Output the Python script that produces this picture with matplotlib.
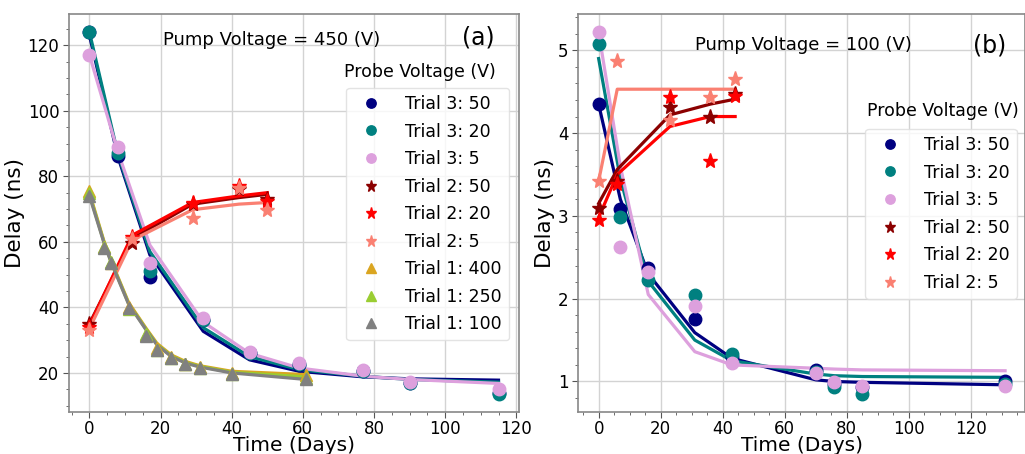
import matplotlib
matplotlib.use("Agg")
import matplotlib.pyplot as plt
from matplotlib.ticker import AutoMinorLocator

# ---------------- Panel (a): Pump Voltage = 450 V ----------------
a_t3_time = [0, 8, 17, 32, 45, 59, 77, 90, 115]
a_t3_50 = [124, 86.2, 49.3, 36.0, 26.0, 22.5, 20.5, 16.8, 14.0]
a_t3_20 = [124, 87.2, 51.0, 36.3, 26.2, 22.8, 20.5, 17.0, 13.6]
a_t3_5 = [117, 89.0, 53.6, 36.8, 26.4, 23.1, 20.8, 17.2, 15.1]
a_t3_50_fit = [123, 86.0, 56.0, 32.7, 24.0, 20.5, 18.8, 18.2, 17.8]
a_t3_20_fit = [124, 86.8, 57.0, 33.8, 25.0, 21.0, 19.0, 18.0, 17.2]
a_t3_5_fit = [117, 87.5, 59.0, 35.5, 26.0, 21.5, 19.0, 18.0, 16.8]

a_t2_time = [0, 12, 29, 42, 50]
a_t2_50 = [34.8, 59.7, 71.5, 76.0, 73.0]
a_t2_20 = [34.0, 61.5, 72.0, 77.0, 72.5]
a_t2_5 = [33.2, 61.0, 67.4, 76.5, 69.8]
a_t2_50_fit = [35.0, 61.0, 71.5, 73.5, 74.5]
a_t2_20_fit = [34.5, 62.0, 72.0, 74.0, 75.0]
a_t2_5_fit = [33.5, 60.5, 69.8, 71.5, 72.0]

a_t1_time = [0, 4, 6, 11, 16, 19, 23, 27, 31, 40, 61]
a_t1_400 = [75.5, 58.5, 53.5, 40.0, 31.5, 27.5, 24.8, 22.8, 21.7, 20.0, 19.3]
a_t1_250 = [75.0, 58.3, 53.8, 39.5, 32.0, 27.0, 24.6, 22.7, 21.4, 19.8, 18.5]
a_t1_100 = [74.0, 58.2, 53.6, 39.9, 31.4, 26.9, 24.6, 22.7, 21.5, 19.8, 18.0]
a_t1_400_fit = [75.0, 60.5, 54.5, 41.5, 33.5, 29.0, 25.5, 23.5, 22.2, 20.5, 19.5]
a_t1_250_fit = [74.5, 60.2, 54.2, 41.2, 33.2, 28.7, 25.2, 23.2, 22.0, 20.2, 18.8]
a_t1_100_fit = [74.0, 60.0, 54.0, 41.0, 33.0, 28.5, 25.0, 23.0, 21.8, 20.0, 18.0]

# ---------------- Panel (b): Pump Voltage = 100 V ----------------
b_t3_time = [0, 7, 16, 31, 43, 70, 76, 85, 131]
b_t3_50 = [4.35, 3.08, 2.37, 1.76, 1.30, 1.14, 0.97, 0.93, 1.00]
b_t3_20 = [5.07, 2.99, 2.22, 2.05, 1.33, 1.12, 0.93, 0.85, 0.97]
b_t3_5 = [5.22, 2.63, 2.32, 1.915, 1.22, 1.10, 0.99, 0.95, 0.95]
b_t3_50_fit = [4.35, 3.20, 2.30, 1.59, 1.28, 1.02, 1.00, 0.99, 0.96]
b_t3_20_fit = [4.90, 3.45, 2.21, 1.50, 1.25, 1.09, 1.07, 1.06, 1.05]
b_t3_5_fit = [5.22, 3.60, 2.05, 1.36, 1.20, 1.16, 1.15, 1.14, 1.13]

b_t2_time = [0, 6, 23, 36, 44]
b_t2_50 = [3.10, 3.42, 4.31, 4.20, 4.47]
b_t2_20 = [2.95, 3.39, 4.43, 3.66, 4.45]
b_t2_5 = [3.42, 4.87, 4.16, 4.43, 4.65]
b_t2_50_fit = [3.15, 3.56, 4.22, 4.35, 4.41]
b_t2_20_fit = [2.98, 3.50, 4.08, 4.20, 4.20]
b_t2_5_fit = [3.42, 4.53, 4.53, 4.53, 4.53]

C_NAVY, C_TEAL, C_PLUM = "#000080", "#008080", "#DDA0DD"
C_DRED, C_RED, C_SALMON = "#8B0000", "#FF0000", "#FA8072"
C_GOLD, C_YG, C_GRAY = "#DAA520", "#9ACD32", "#808080"

fig = plt.figure(figsize=(10.25, 4.54), dpi=100)
axA = fig.add_axes([0.0673, 0.0925, 0.439, 0.8767])
axB = fig.add_axes([0.5642, 0.0925, 0.4362, 0.8767])

LW = 2.3


def series(ax, t, y, fit, color, marker, ms, label):
    ax.plot(t, fit, color=color, lw=LW, zorder=2)
    ax.plot(t, y, linestyle="none", marker=marker, color=color, ms=ms,
            label=label, zorder=3)


series(axA, a_t3_time, a_t3_50, a_t3_50_fit, C_NAVY, "o", 9, "Trial 3: 50")
series(axA, a_t3_time, a_t3_20, a_t3_20_fit, C_TEAL, "o", 9, "Trial 3: 20")
series(axA, a_t3_time, a_t3_5, a_t3_5_fit, C_PLUM, "o", 9, "Trial 3: 5")
series(axA, a_t2_time, a_t2_50, a_t2_50_fit, C_DRED, "*", 11, "Trial 2: 50")
series(axA, a_t2_time, a_t2_20, a_t2_20_fit, C_RED, "*", 11, "Trial 2: 20")
series(axA, a_t2_time, a_t2_5, a_t2_5_fit, C_SALMON, "*", 11, "Trial 2: 5")
series(axA, a_t1_time, a_t1_400, a_t1_400_fit, C_GOLD, "^", 9, "Trial 1: 400")
series(axA, a_t1_time, a_t1_250, a_t1_250_fit, C_YG, "^", 9, "Trial 1: 250")
series(axA, a_t1_time, a_t1_100, a_t1_100_fit, C_GRAY, "^", 9, "Trial 1: 100")

series(axB, b_t3_time, b_t3_50, b_t3_50_fit, C_NAVY, "o", 9, "Trial 3: 50")
series(axB, b_t3_time, b_t3_20, b_t3_20_fit, C_TEAL, "o", 9, "Trial 3: 20")
series(axB, b_t3_time, b_t3_5, b_t3_5_fit, C_PLUM, "o", 9, "Trial 3: 5")
series(axB, b_t2_time, b_t2_50, b_t2_50_fit, C_DRED, "*", 11, "Trial 2: 50")
series(axB, b_t2_time, b_t2_20, b_t2_20_fit, C_RED, "*", 11, "Trial 2: 20")
series(axB, b_t2_time, b_t2_5, b_t2_5_fit, C_SALMON, "*", 11, "Trial 2: 5")

for ax in (axA, axB):
    ax.grid(True, color="#d3d3d3", lw=1.0, zorder=0)
    ax.set_axisbelow(True)
    ax.xaxis.set_minor_locator(AutoMinorLocator())
    ax.yaxis.set_minor_locator(AutoMinorLocator())
    ax.tick_params(axis="both", which="major", labelsize=12, length=4,
                   color="#555555", pad=3)
    ax.tick_params(axis="x", which="major", pad=2)
    ax.tick_params(axis="both", which="minor", length=2, color="#555555")
    for s in ax.spines.values():
        s.set_color("#888888")
        s.set_linewidth(1.2)
    ax.set_xlabel("Time (Days)", fontsize=14.5, labelpad=-1.5)
    ax.set_ylabel("Delay (ns)", fontsize=15.5, labelpad=2)

axA.text(0.451, 0.935, "Pump Voltage = 450 (V)", transform=axA.transAxes,
         ha="center", va="center", fontsize=13)
axA.text(0.909, 0.94, "(a)", transform=axA.transAxes, ha="center",
         va="center", fontsize=17)
axA.text(0.78, 0.854, "Probe Voltage (V)", transform=axA.transAxes,
         ha="center", va="center", fontsize=12.5)
axA.legend(loc="upper right", bbox_to_anchor=(0.978, 0.814),
           borderaxespad=0, fontsize=12.5, markerscale=0.75,
           handletextpad=1.0, labelspacing=0.55, framealpha=0.8,
           edgecolor="#dddddd")

axB.text(0.503, 0.922, "Pump Voltage = 100 (V)", transform=axB.transAxes,
         ha="center", va="center", fontsize=13)
axB.text(0.919, 0.922, "(b)", transform=axB.transAxes, ha="center",
         va="center", fontsize=17)
axB.text(0.816, 0.757, "Probe Voltage (V)", transform=axB.transAxes,
         ha="center", va="center", fontsize=12.5)
axB.legend(loc="upper right", bbox_to_anchor=(0.981, 0.711),
           borderaxespad=0, fontsize=12.5, markerscale=0.75,
           handletextpad=1.0, labelspacing=0.55, framealpha=0.8,
           edgecolor="#dddddd")

fig.savefig("out.png", dpi=100)
